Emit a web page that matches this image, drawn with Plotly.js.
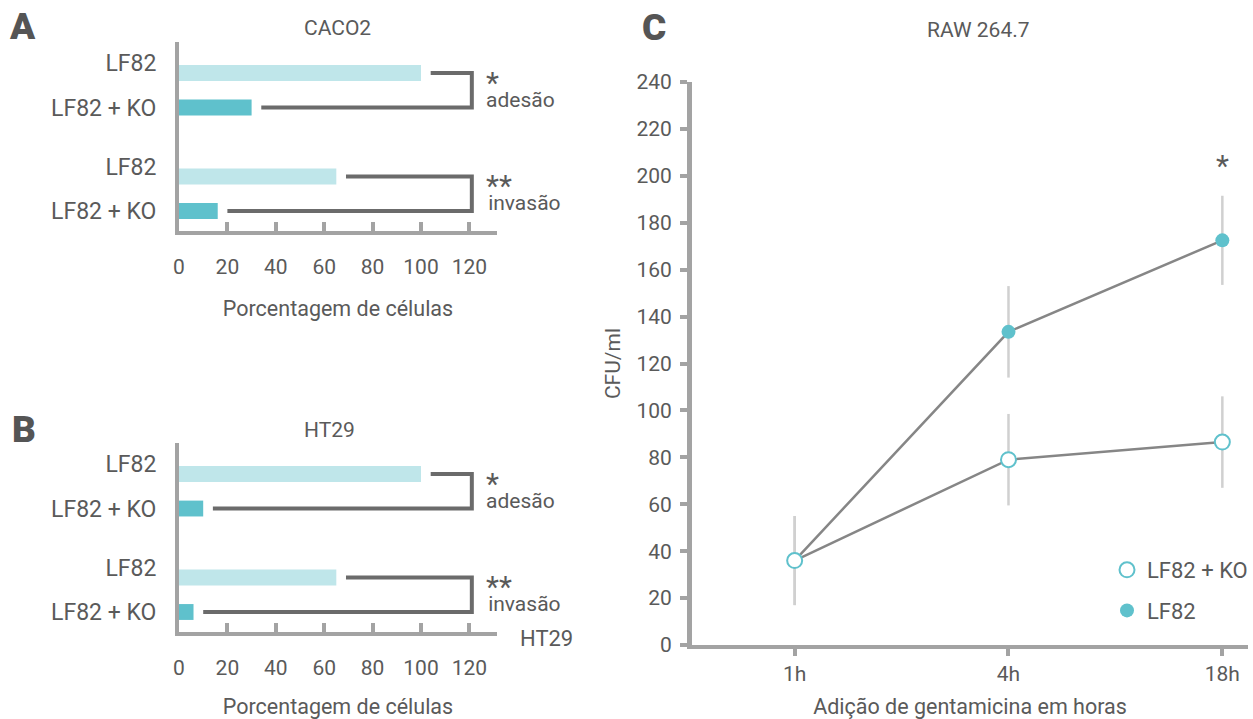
<!DOCTYPE html>
<html>
<head>
<meta charset="utf-8">
<script src="https://cdn.plot.ly/plotly-3.0.1.min.js"></script>
<style>html,body{margin:0;padding:0;background:#fff;}#chart{width:1253px;height:719px;}</style>
</head>
<body>
<div id="chart"></div>
<script>
// ---------- data ----------
const strains = ['LF82', 'LF82 + KO'];
const assays = ['adesão', 'invasão'];
const significance = ['*', '**'];
const caco2LF82 = [100, 65];   // % cells: adesão, invasão
const caco2KO = [30, 16];
const ht29LF82 = [100, 65];
const ht29KO = [10, 6];
const barTicks = [0, 20, 40, 60, 80, 100, 120];

const hours = ['1h', '4h', '18h'];
const rawKO = [36, 79, 86.5];      // CFU/ml
const rawKOErr = [19, 19.5, 19.5];
const rawLF82 = [36, 133.5, 172.5];
const rawLF82Err = [19, 19.5, 19];
const rawSig = ['', '', '*'];
const cfuTicks = [0, 20, 40, 60, 80, 100, 120, 140, 160, 180, 200, 220, 240];

// ---------- style ----------
const W = 1253, H = 719;
const fx = p => p / W;
const fy = p => 1 - p / H;
const TXT = '#5a5a5a';
const AX = '#a3a3a3';
const BR = '#6b6b6b';
const LIGHT = '#bfe6ea';
const TEAL = '#5fc1cc';
const FONT = 'Roboto, "Open Sans", sans-serif';

// rows of the bar panels: one spacer row between assays
const rows = [];
assays.forEach((a, i) => {
  if (i > 0) rows.push('gap');
  strains.forEach(s => rows.push(a + '|' + s));
});
const rowOf = (a, s) => rows.indexOf(a + '|' + s);
const rowIdx = rows.map((r, i) => i).filter(i => rows[i] !== 'gap');
// label of the first strain sits a little above its bar, as in the original figure
const rowTickVals = rowIdx.map(i => rows[i].split('|')[1] === strains[0] ? i - 0.28 : i);
const rowTickText = rowIdx.map(i => rows[i].split('|')[1]);

const traces = [];
const shapes = [];
const annotations = [];
const BRACKET_X = 121;
const GAP = 4;

function barPanel(xa, ya, lf, ko) {
  traces.push({
    type: 'bar', orientation: 'h', xaxis: xa, yaxis: ya,
    x: lf, y: assays.map(a => rowOf(a, strains[0])),
    width: 0.46, marker: {color: LIGHT}, showlegend: false, hoverinfo: 'x'
  });
  traces.push({
    type: 'bar', orientation: 'h', xaxis: xa, yaxis: ya,
    x: ko, y: assays.map(a => rowOf(a, strains[1])),
    width: 0.46, marker: {color: TEAL}, showlegend: false, hoverinfo: 'x'
  });
  assays.forEach((a, i) => {
    const y1 = rowOf(a, strains[0]);
    const y2 = rowOf(a, strains[1]);
    shapes.push({
      type: 'path', xref: xa, yref: ya,
      path: `M ${lf[i] + GAP},${y1} L ${BRACKET_X},${y1} L ${BRACKET_X},${y2} L ${ko[i] + GAP},${y2}`,
      line: {color: BR, width: 4}
    });
    annotations.push({
      xref: xa, yref: ya, x: BRACKET_X, y: (y1 + y2) / 2, xanchor: 'left', yanchor: 'middle',
      xshift: 12, yshift: 2, align: 'left', showarrow: false,
      text: `<span style="font-size:30px">${significance[i]}</span><br><span style="font-size:21px">${i === 0 ? '' : '&#8202;'}${a}</span>`,
      font: {size: 11, color: TXT, family: FONT}
    });
  });
}
barPanel('x', 'y', caco2LF82, caco2KO);
barPanel('x2', 'y2', ht29LF82, ht29KO);

// RAW 264.7 panel: lines (with error bars) then markers on top
traces.push({
  type: 'scatter', mode: 'lines', xaxis: 'x3', yaxis: 'y3', x: hours, y: rawKO,
  line: {color: '#868686', width: 2.5}, showlegend: false,
  error_y: {type: 'data', array: rawKOErr, color: '#d0d0d0', thickness: 2.5, width: 0}
});
traces.push({
  type: 'scatter', mode: 'lines', xaxis: 'x3', yaxis: 'y3', x: hours, y: rawLF82,
  line: {color: '#868686', width: 2.5}, showlegend: false,
  error_y: {type: 'data', array: rawLF82Err, color: '#d0d0d0', thickness: 2.5, width: 0}
});
traces.push({
  type: 'scatter', mode: 'markers', xaxis: 'x3', yaxis: 'y3', x: hours, y: rawLF82,
  name: 'LF82', legendgroup: 'lf', legendrank: 2,
  marker: {symbol: 'circle', size: 14, color: TEAL, line: {width: 0}}
});
traces.push({
  type: 'scatter', mode: 'markers', xaxis: 'x3', yaxis: 'y3', x: hours, y: rawKO,
  name: 'LF82 + KO', legendgroup: 'ko', legendrank: 1,
  marker: {symbol: 'circle', size: 15, color: '#ffffff', line: {color: TEAL, width: 2}}
});
hours.forEach((h, i) => {
  if (!rawSig[i]) return;
  annotations.push({
    xref: 'x3', yref: 'y3', x: h, y: rawLF82[i] + rawLF82Err[i], yanchor: 'bottom',
    yshift: 11, text: rawSig[i], showarrow: false, font: {size: 30, color: TXT, family: FONT}
  });
});

// panel letters and titles
const heads = [
  {t: 'A', x: 22, y: 27, big: true}, {t: 'B', x: 24, y: 429, big: true}, {t: 'C', x: 654, y: 28, big: true},
  {t: 'CACO2', x: 337, y: 28}, {t: 'HT29', x: 329, y: 430}, {t: 'RAW 264.7', x: 978, y: 30},
  {t: 'HT29', x: 546, y: 638, size: 22}
];
heads.forEach(h => annotations.push({
  xref: 'paper', yref: 'paper', x: fx(h.x), y: fy(h.y), xanchor: 'center', yanchor: 'middle',
  text: h.t, showarrow: false,
  font: h.big ? {size: 37, color: '#555555', family: FONT, weight: 900} : {size: h.size || 21, color: TXT, family: FONT}
}));

function barX(domain, title) {
  return {
    domain: domain, range: [0, 131.4], tickvals: barTicks, ticks: 'inside', ticklen: 9, tickwidth: 4,
    tickcolor: AX, showline: true, linewidth: 4, linecolor: AX, showgrid: false, zeroline: false,
    ticklabelstandoff: 14, tickfont: {size: 21, color: TXT, family: FONT},
    title: {text: title, font: {size: 21.5, color: TXT, family: FONT}, standoff: 24}, fixedrange: true
  };
}
function barY(domain, anchor) {
  return {
    domain: domain, anchor: anchor, range: [4.58, -0.9], tickvals: rowTickVals, ticktext: rowTickText,
    ticks: '', showline: true, linewidth: 4, linecolor: AX, showgrid: false, zeroline: false,
    ticklabelstandoff: 14, tickfont: {size: 23, color: TXT, family: FONT}, fixedrange: true
  };
}

const layout = {
  width: W, height: H, margin: {l: 0, r: 0, t: 0, b: 0, autoexpand: false},
  paper_bgcolor: '#ffffff', plot_bgcolor: 'rgba(0,0,0,0)',
  font: {family: FONT, color: TXT, size: 20},
  barmode: 'overlay', showlegend: true,
  xaxis: Object.assign(barX([fx(179), fx(497)], 'Porcentagem de células'), {anchor: 'y'}),
  yaxis: barY([fy(231), fy(42)], 'x'),
  xaxis2: Object.assign(barX([fx(179), fx(497)], 'Porcentagem de células'), {anchor: 'y2'}),
  yaxis2: barY([fy(632), fy(443)], 'x2'),
  xaxis3: {
    domain: [fx(692), fx(1248)], anchor: 'y3', type: 'category', range: [-0.48, 2.12],
    ticks: 'outside', ticklen: 7, tickwidth: 4, tickcolor: AX, showline: true, linewidth: 4, linecolor: AX,
    showgrid: false, zeroline: false, ticklabelstandoff: 0, tickfont: {size: 21, color: TXT, family: FONT},
    title: {text: 'Adição de gentamicina em horas', font: {size: 21.5, color: TXT, family: FONT}, standoff: 16},
    fixedrange: true
  },
  yaxis3: {
    domain: [fy(645), fy(82)], anchor: 'x3', range: [0, 240], tickvals: cfuTicks,
    ticks: 'outside', ticklen: 7, tickwidth: 4, tickcolor: AX, showline: true, linewidth: 5, linecolor: AX,
    showgrid: false, zeroline: false, ticklabelstandoff: 4, tickfont: {size: 21, color: TXT, family: FONT},
    title: {text: 'CFU/ml', font: {size: 21, color: TXT, family: FONT}, standoff: 12}, fixedrange: true
  },
  legend: {
    x: 1, y: fy(549), xanchor: 'right', yanchor: 'top', bgcolor: 'rgba(0,0,0,0)',
    traceorder: 'grouped', tracegroupgap: 9, font: {size: 22, color: TXT, family: FONT}
  },
  shapes: shapes,
  annotations: annotations
};

Plotly.newPlot('chart', traces, layout, {displayModeBar: false, staticPlot: true});
</script>
</body>
</html>
